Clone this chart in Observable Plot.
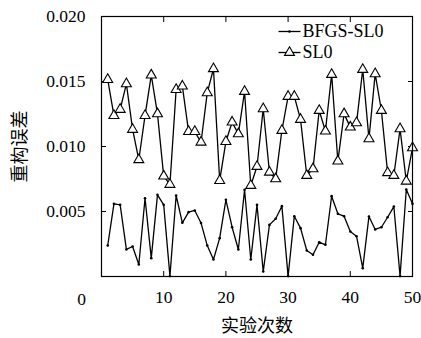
<!DOCTYPE html>
<html><head><meta charset="utf-8">
<script src="https://cdn.jsdelivr.net/npm/d3@7"></script>
<script src="https://cdn.jsdelivr.net/npm/@observablehq/plot@0.6"></script>
<style>body{margin:0;background:#fff}</style>
</head><body><div id="chart"></div>
<script>
const trials = [1,2,3,4,5,6,7,8,9,10,11,12,13,14,15,16,17,18,19,20,21,22,23,24,25,26,27,28,29,30,31,32,33,34,35,36,37,38,39,40,41,42,43,44,45,46,47,48,49,50];
const bfgsSL0 = [0.00238,0.00559,0.00551,0.00208,0.00231,0.00092,0.00602,0.00141,0.00628,0.00551,
  0.00003,0.00623,0.00413,0.00495,0.00508,0.00412,0.00238,0.00131,0.00295,0.00590,
  0.00379,0.00208,0.00667,0.00131,0.00551,0.00038,0.00397,0.00444,0.00541,0.00003,
  0.00464,0.00372,0.00200,0.00167,0.00264,0.00244,0.00618,0.00482,0.00464,0.00346,
  0.00310,0.00064,0.00462,0.00362,0.00379,0.00456,0.00538,0.00003,0.00669,0.00559];
const sl0 = [0.01515,0.01238,0.01285,0.01482,0.01131,0.00898,0.01238,0.01549,0.01251,0.00772,
  0.00708,0.01438,0.01464,0.01115,0.01115,0.01033,0.01413,0.01598,0.00738,0.01038,
  0.01187,0.01097,0.01423,0.00700,0.00846,0.01290,0.00802,0.00751,0.01123,0.01385,
  0.01385,0.01208,0.00777,0.00828,0.01277,0.01118,0.01554,0.00887,0.01251,0.01149,
  0.01182,0.01592,0.01059,0.01559,0.01277,0.00798,0.00777,0.01136,0.00733,0.00990];
const seriesNames = ["BFGS-SL0", "SL0"];
const xTicks = [10, 20, 30, 40, 50];
const xZeroTick = [0];
const yTicks = [0.005, 0.010, 0.015, 0.020];
const xTitle = "实验次数";
const yTitle = "重构误差";

const bfgsData = trials.map((t, i) => ({trial: t, value: bfgsSL0[i]}));
const sl0Data = trials.map((t, i) => ({trial: t, value: sl0[i]}));

const lineSym = {draw(ctx) { ctx.moveTo(-11, 0); ctx.lineTo(11, 0); }};
const serif = "'Liberation Serif', 'DejaVu Serif', serif";
const cjk = "'Noto Sans CJK SC', sans-serif";

const chart = Plot.plot({
  width: 421, height: 338,
  marginLeft: 101, marginRight: 9, marginTop: 16, marginBottom: 62,
  style: {fontFamily: serif, fontSize: "17.5px", background: "#fff", color: "#000"},
  x: {domain: [0, 50]},
  y: {domain: [0, 0.020]},
  marks: [
    Plot.axisY(yTicks, {anchor: "left", tickSize: -5, tickPadding: 21, tickFormat: d3.format(".3f"), label: null}),
    Plot.axisY(yTicks, {anchor: "right", tickSize: -5, tickFormat: () => "", label: null}),
    Plot.axisX(xTicks, {anchor: "bottom", tickSize: -5, tickPadding: 19, tickFormat: d3.format("d"), label: null}),
    Plot.axisX(xTicks, {anchor: "top", tickSize: -5, tickFormat: () => "", label: null}),
    Plot.text(xZeroTick, {x: d => d, frameAnchor: "bottom", lineAnchor: "middle", dy: 23, dx: -20, text: d => String(d), fontSize: 17.5}),
    Plot.line(bfgsData, {x: "trial", y: "value", stroke: "black", strokeWidth: 1.3}),
    Plot.dot(bfgsData, {x: "trial", y: "value", r: 1.3, fill: "black"}),
    Plot.line(sl0Data, {x: "trial", y: "value", stroke: "black", strokeWidth: 1.3}),
    Plot.dot(sl0Data, {x: "trial", y: "value", symbol: "triangle", r: 3.7, fill: "white", stroke: "black", strokeWidth: 1.1}),
    Plot.frame({stroke: "black", strokeWidth: 1.2}),
    // legend
    Plot.dot([seriesNames[0]], {frameAnchor: "top-right", dx: -123, dy: 15, symbol: lineSym, stroke: "black", fill: "none", strokeWidth: 1.3}),
    Plot.dot([seriesNames[0]], {frameAnchor: "top-right", dx: -123, dy: 15, r: 1.3, fill: "black"}),
    Plot.text([seriesNames[0]], {frameAnchor: "top-right", lineAnchor: "middle", dx: -110, dy: 15, textAnchor: "start", text: d => d, fontSize: 18}),
    Plot.dot([seriesNames[1]], {frameAnchor: "top-right", dx: -123, dy: 36, symbol: lineSym, stroke: "black", fill: "none", strokeWidth: 1.3}),
    Plot.dot([seriesNames[1]], {frameAnchor: "top-right", dx: -123, dy: 36, symbol: "triangle", r: 3.7, fill: "white", stroke: "black", strokeWidth: 1.1}),
    Plot.text([seriesNames[1]], {frameAnchor: "top-right", lineAnchor: "middle", dx: -110, dy: 36, textAnchor: "start", text: d => d, fontSize: 18}),
    // titles
    Plot.text([xTitle], {frameAnchor: "bottom", lineAnchor: "middle", textAnchor: "middle", dy: 50, text: d => d, fontFamily: cjk, fontSize: 18}),
    Plot.text([yTitle], {frameAnchor: "left", lineAnchor: "middle", textAnchor: "middle", dx: -81, rotate: -90, text: d => d, fontFamily: cjk, fontSize: 18})
  ]
});
document.getElementById("chart").appendChild(chart);
</script>
</body></html>
